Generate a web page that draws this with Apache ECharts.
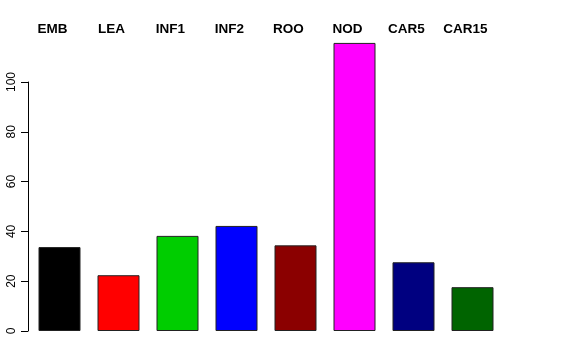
<!DOCTYPE html>
<html>
<head>
<meta charset="utf-8">
<script src="https://cdn.jsdelivr.net/npm/echarts@6/dist/echarts.min.js"></script>
<style>
html,body{margin:0;padding:0;background:#fff;}
#chart{width:576px;height:360px;}
</style>
</head>
<body>
<div id="chart"></div>
<script>
var categories = ['EMB','LEA','INF1','INF2','ROO','NOD','CAR5','CAR15'];
var values = [33.7, 22.4, 38.2, 42.2, 34.4, 115.7, 27.6, 17.6];
var colors = ['#000000','#FF0000','#00CD00','#0000FF','#8B0000','#FF00FF','#000080','#006400'];
var yTicks = [0, 20, 40, 60, 80, 100];

var chart = echarts.init(document.getElementById('chart'), null, {renderer:'canvas'});
chart.setOption({
  animation: false,
  backgroundColor: '#ffffff',
  grid: {left: 30, right: 74, top: 82, bottom: 29},
  xAxis: {
    type: 'category',
    position: 'top',
    data: categories,
    axisLine: {show: false},
    axisTick: {show: false},
    axisLabel: {
      interval: 0,
      hideOverlap: false,
      margin: 46,
      color: '#000',
      fontFamily: 'Liberation Sans, Arial, sans-serif',
      fontWeight: 'bold',
      fontSize: 13.5,
      padding: [0, 14, 0, 0]
    }
  },
  yAxis: {
    type: 'value',
    min: yTicks[0],
    max: yTicks[yTicks.length - 1],
    interval: 20,
    offset: 2,
    splitLine: {show: false},
    axisLine: {show: true, lineStyle: {color: '#000', width: 1}},
    axisTick: {show: true, length: 7, lineStyle: {color: '#000'}},
    axisLabel: {
      rotate: 90,
      margin: 10,
      color: '#000',
      fontFamily: 'Liberation Sans, Arial, sans-serif',
      fontSize: 12
    }
  },
  series: [{
    type: 'bar',
    clip: false,
    barWidth: 42,
    data: values.map(function(v, i){
      return {value: v, itemStyle: {color: colors[i]}};
    }),
    itemStyle: {borderColor: '#222', borderWidth: 1}
  }]
});
</script>
</body>
</html>
